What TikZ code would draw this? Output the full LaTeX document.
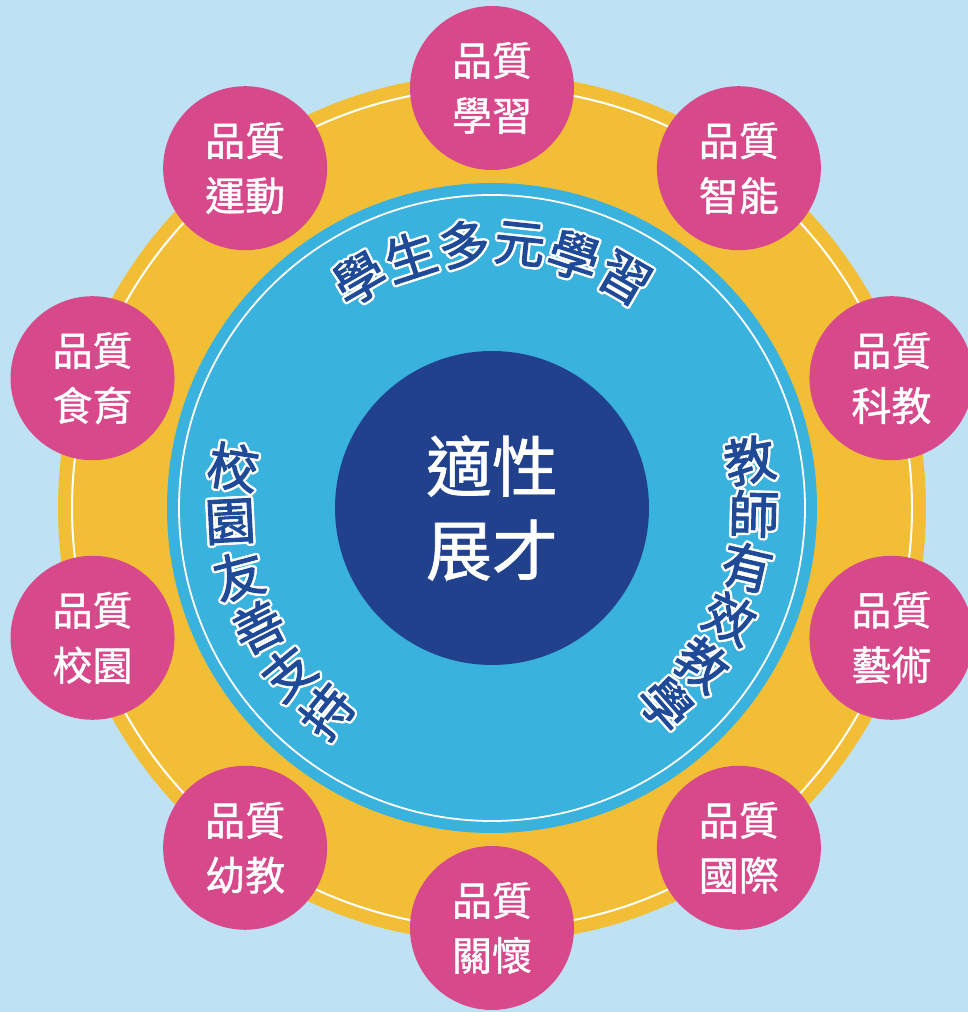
\documentclass[tikz,border=0pt]{standalone}
\usepackage{fontspec}
\newfontfamily\cjk{Noto Sans CJK TC}
\newfontfamily\cjkm[FakeBold=1]{Noto Sans CJK TC}
\newfontfamily\cjkh[FakeBold=1.8]{Noto Sans CJK TC}
\usetikzlibrary{calc}
\definecolor{bgblue}{HTML}{BEE2F3}
\definecolor{ringyellow}{HTML}{F1BE36}
\definecolor{midblue}{HTML}{3AB2DE}
\definecolor{coreblue}{HTML}{22418D}
\definecolor{pinkc}{HTML}{D8498B}
\definecolor{textblue}{HTML}{1F4A98}
\tikzset{
  petal/.style={circle, fill=pinkc, minimum size=164pt, inner sep=0pt, text=white, align=center, font=\cjkm\fontsize{40}{55}\selectfont},
  core/.style={circle, fill=coreblue, minimum size=314pt, inner sep=0pt, text=white, align=center, font=\cjkm\fontsize{66}{84}\selectfont},
  arcch/.style={text=textblue, font=\cjkh\fontsize{51}{51}\selectfont, inner sep=0pt},
  whiteline/.style={draw=white, line width=2pt},
}
\newcommand\olchar[1]{%
  \foreach \oa in {0,30,...,330}{%
    \pgfmathsetlengthmacro\odx{2.4*cos(\oa)}%
    \pgfmathsetlengthmacro\ody{2.4*sin(\oa)}%
    \makebox[0pt][l]{\hspace*{\odx}\raisebox{\ody}{\color{white}#1}}}%
  #1}
\newcommand\arcchar[3]{%
  \node[arcch, rotate=#2] (#1) at (ch) {\olchar{#3}};
}
\begin{document}
\begin{tikzpicture}[x=1pt,y=1pt]
\useasboundingbox (0,0) rectangle (968,1012);
\fill[bgblue] (0,0) rectangle (968,1012);
\coordinate (O) at (492,504);
\fill[ringyellow] (O) circle[radius=434];
\draw[whiteline] (O) circle[radius=420];
\fill[midblue] (O) circle[radius=325];
\draw[whiteline, line width=1.8pt] (O) circle[radius=313];
\node[core] (core) at (O) {適性\\展才};
\foreach \a/\t [count=\i] in {90/學習, 54/智能, 18/科教, -18/藝術, -54/國際, -90/關懷, -126/幼教, -162/校園, 162/食育, 126/運動}{
  \node[petal] (p\i) at ($(O)+(\a:420)$) {品質\\\t};
}
\foreach \c [count=\i] in {學,生,多,元,學,習}{
  \pgfmathsetmacro\ang{132-12*\i}
  \pgfmathsetmacro\rot{\ang-90}
  \coordinate (ch) at ($(O)+(\ang:265)$);
  \arcchar{top\i}{\rot}{\c}
}
\foreach \c [count=\i] in {教,師,有,效,教,學}{
  \pgfmathsetmacro\ang{22.3-11.8*\i}
  \coordinate (ch) at ($(O)+(\ang:262)$);
  \arcchar{right\i}{\ang}{\c}
}
\foreach \c [count=\i] in {校,園,友,善,支,持}{
  \pgfmathsetmacro\ang{159+12*\i}
  \pgfmathsetmacro\rot{\ang-180}
  \coordinate (ch) at ($(O)+(\ang:262)$);
  \arcchar{left\i}{\rot}{\c}
}
\end{tikzpicture}
\end{document}
